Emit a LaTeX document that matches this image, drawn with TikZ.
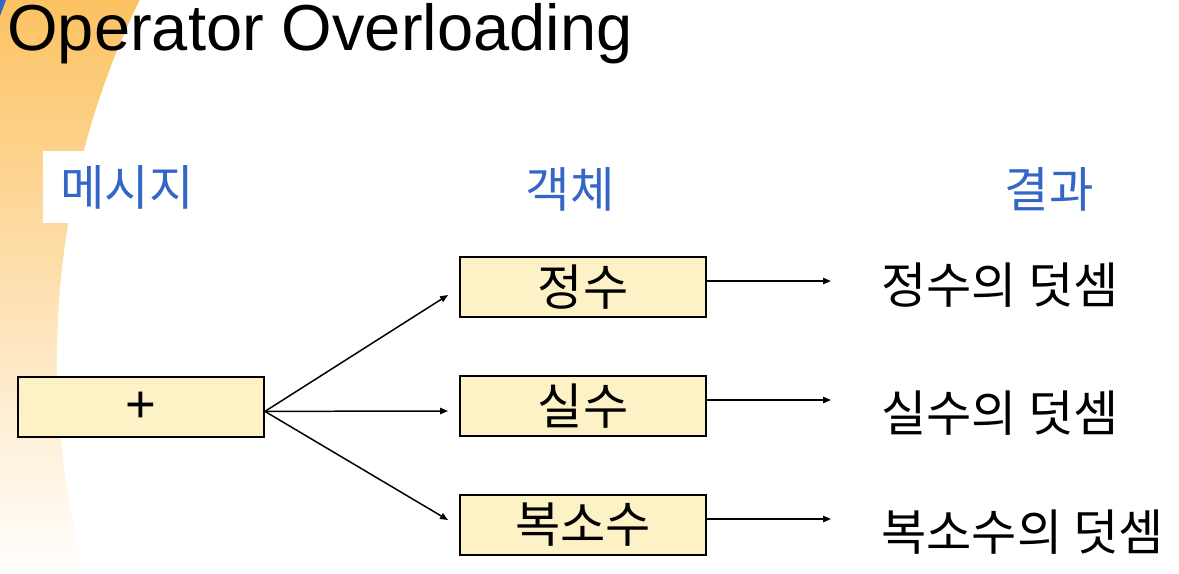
\documentclass[tikz,border=0pt]{standalone}
\usepackage{fontspec}
\setmainfont{Liberation Sans}
\newfontfamily\kor{Noto Sans CJK KR}
\usetikzlibrary{arrows.meta}
\definecolor{slideorange}{RGB}{252,194,98}
\definecolor{boxfill}{RGB}{253,242,198}
\definecolor{hdrblue}{RGB}{52,102,200}

\begin{document}
\begin{tikzpicture}[x=0.02cm, y=-0.02cm,
    box/.style={draw, line width=1.1pt, fill=boxfill, minimum width=4.92cm, minimum height=1.2cm, inner sep=0pt, font=\kor\fontsize{28}{32}\selectfont},
    hdr/.style={text=hdrblue, inner sep=0pt, font=\kor\fontsize{27.5}{32}\selectfont},
    res/.style={anchor=west, inner sep=0pt, font=\kor\fontsize{28}{32}\selectfont},
    arr/.style={-{Triangle[length=4.5pt,width=3.6pt]}, line width=0.85pt}]
        \useasboundingbox (0,0) rectangle (1179,574);
        \shade[top color=slideorange, bottom color=white] (0,0) rectangle (170,574);
        \fill[white] (879,360) circle[radius=822];
        \fill[hdrblue] (0,0) -- (6,0) -- (0,16) -- cycle;
        \node[anchor=base west, inner sep=0pt, font=\fontsize{37}{42}\selectfont] (title) at (7,51) {Operator Overloading};
        \node[hdr, fill=white, minimum width=3.36cm, minimum height=1.44cm] (msg) at (127,187) {메시지};
        \node[hdr] (obj) at (570,189) {객체};
        \node[hdr] (rslt) at (1049,189) {결과};
        \node[box] (plus) at (141,407) {\rmfamily\fontsize{30}{34}\selectfont +};
        \node[box] (int) at (583,287) {정수};
        \node[box] (real) at (583,406) {실수};
        \node[box] (cplx) at (583,525) {복소수};
        \coordinate (fan) at ([yshift=-2.5pt]plus.east);
        \coordinate (intin) at (448,295);
        \coordinate (realin) at (448,411);
        \coordinate (cplxin) at (448,520);
        \draw[arr] (fan) -- (intin);
        \draw[arr] (fan) -- (realin);
        \draw[arr] (fan) -- (cplxin);
        \draw[arr] ([yshift=3.4pt]int.east) -- ++(124,0);
        \draw[arr] ([yshift=3.4pt]real.east) -- ++(124,0);
        \draw[arr] ([yshift=3.4pt]cplx.east) -- ++(124,0);
        \node[res] (intsum) at (881,285) {정수의 덧셈};
        \node[res] (realsum) at (881,413) {실수의 덧셈};
        \node[res] (cplxsum) at (881,532) {복소수의 덧셈};
      \end{tikzpicture}
\end{document}
